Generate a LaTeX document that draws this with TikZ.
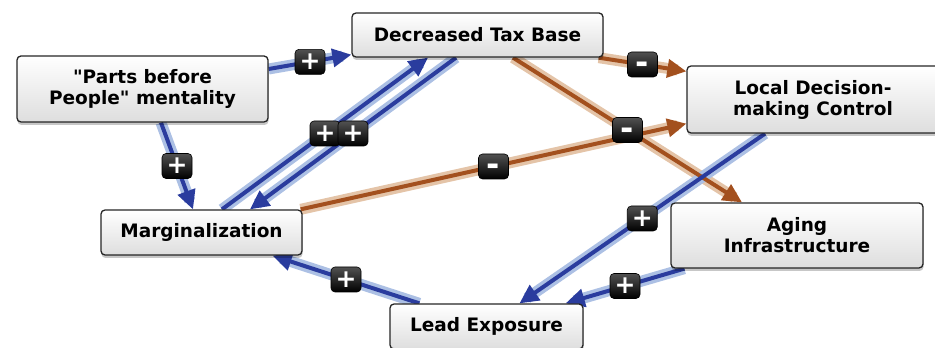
\documentclass[tikz,border=0pt]{standalone}
\usepackage{fontspec}
\newfontfamily\boxfont{DejaVu Sans}
\usetikzlibrary{arrows.meta,shadows}

\definecolor{blueline}{RGB}{42,60,158}
\definecolor{bluehalo}{RGB}{172,192,228}
\definecolor{brownline}{RGB}{163,80,30}
\definecolor{brownhalo}{RGB}{228,196,168}

\pgfdeclarelayer{halos}
\pgfdeclarelayer{strokes}
\pgfdeclarelayer{tags}
\pgfsetlayers{halos,strokes,main,tags}

% one causal link: halo, stroke with arrow head, and its sign tag at the middle
% #1 = pos/neg, #2 = from, #3 = to, #4 = sign
\newcommand\causal[4]{%
  \begin{pgfonlayer}{halos}\draw[#1 halo] #2 -- #3;\end{pgfonlayer}
  \begin{pgfonlayer}{strokes}\draw[#1 line] #2 -- #3;\end{pgfonlayer}
  \begin{pgfonlayer}{tags}\path #2 -- node[#1 tag]{#4} #3;\end{pgfonlayer}}

\begin{document}
\begin{tikzpicture}[x=1pt,y=1pt,
  factor/.style={draw=black!85, line width=1.3pt, rounded corners=4pt,
    top color=white, bottom color=black!13, align=center, inner sep=0pt,
    text=black, font=\boxfont\bfseries\fontsize{18.5}{21}\selectfont,
    drop shadow={shadow xshift=0.5pt, shadow yshift=-3pt, fill=black, opacity=0.22}},
  tagbox/.style={rounded corners=4pt, top color=black!68, bottom color=black,
    draw=black, line width=0.6pt, minimum width=30pt, minimum height=25pt,
    inner sep=0pt, text=white},
  pos tag/.style={tagbox, font=\boxfont\bfseries\fontsize{25}{25}\selectfont,
    text height=16pt, text depth=0pt},
  neg tag/.style={tagbox, font=\boxfont\bfseries\fontsize{32}{32}\selectfont,
    text height=19pt, text depth=0pt},
  pos halo/.style={draw=bluehalo, line width=11pt, shorten >=9pt},
  pos line/.style={draw=blueline, line width=4pt, -{Triangle[length=19pt,width=18pt]}},
  neg halo/.style={draw=brownhalo, line width=11pt, shorten >=9pt},
  neg line/.style={draw=brownline, line width=4pt, -{Triangle[length=19pt,width=18pt]}},
]
\useasboundingbox (0,0) rectangle (935,348);

% factors
\node[factor, minimum width=251pt, minimum height=66pt] (parts) at (142.5,259)
  {"Parts before\\People" mentality};
\node[factor, minimum width=251pt, minimum height=44pt] (dtb) at (477.5,313)
  {Decreased Tax Base};
\node[factor, minimum width=252pt, minimum height=67pt] (ldc) at (813,248.5)
  {Local Decision-\\making Control};
\node[factor, minimum width=201pt, minimum height=45pt] (marg) at (201.5,115.5)
  {Marginalization};
\node[factor, minimum width=252pt, minimum height=65pt] (aging) at (797,112.5)
  {Aging\\Infrastructure};
\node[factor, minimum width=193pt, minimum height=45pt] (lead) at (486.5,21.5)
  {Lead Exposure};

% links
\causal{pos}{([yshift=20pt]parts.east)}{([yshift=3pt]dtb.south west)}{+}
\causal{pos}{([xshift=18.5pt]parts.south)}{([xshift=-8.5pt]marg.north)}{+}
\causal{pos}{([xshift=20.5pt]marg.north)}{([xshift=-49.5pt]dtb.south)}{+}
\causal{pos}{([xshift=-21.5pt]dtb.south)}{([xshift=48.5pt]marg.north)}{+}
\causal{neg}{([xshift=-5pt]dtb.south east)}{([yshift=-6pt]ldc.north west)}{-}
\causal{neg}{([xshift=35.5pt]dtb.south)}{([xshift=-55pt]aging.north)}{-}
\causal{neg}{([xshift=-2pt]marg.north east)}{([yshift=10pt]ldc.south west)}{-}
\causal{pos}{([xshift=-48pt]ldc.south)}{([xshift=33pt]lead.north)}{+}
\causal{pos}{([xshift=14pt]aging.south west)}{([xshift=-18pt]lead.north east)}{+}
\causal{pos}{([xshift=30pt]lead.north west)}{([xshift=-30pt]marg.south east)}{+}
\end{tikzpicture}
\end{document}
